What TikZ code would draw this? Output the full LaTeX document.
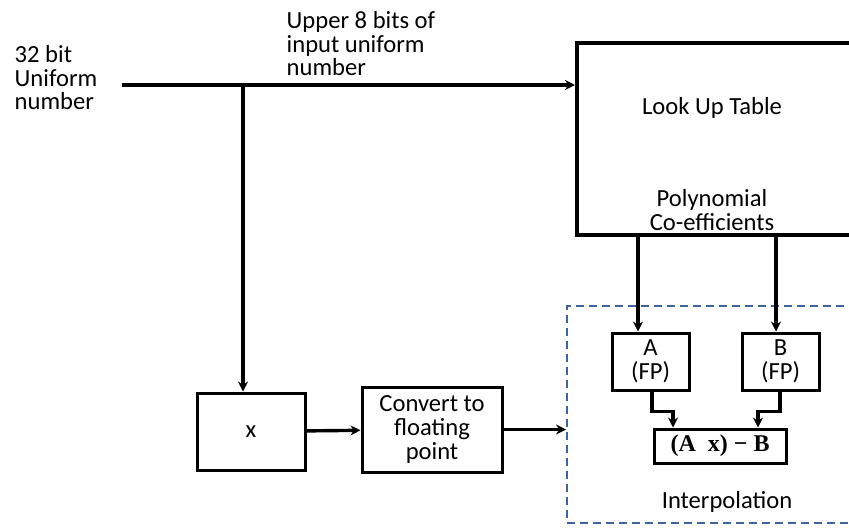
\documentclass[tikz,border=0pt]{standalone}
\usepackage{fontspec}
\setmainfont{Carlito}
\newfontfamily\eqfont{Liberation Serif}
\usetikzlibrary{arrows.meta,calc,positioning}
\definecolor{dashblue}{HTML}{3E64A0}

\begin{document}
\begin{tikzpicture}[
    x=0.5pt,
    y=-0.5pt,
    >={Stealth[length=5pt,width=5pt]},
    line width=1.7pt,
    font=\fontsize{12.3}{11.8}\selectfont,
    text centered
  ]

  \tikzstyle{block} = [rectangle, draw, line width=1.5pt, align=center, inner sep=0]
  \tikzstyle{label} = [align=left, inner sep=0, anchor=north west]

  \useasboundingbox (0,0) rectangle (849,527);

  % input side
  \node [label] (inlabel) at (13,44) {32 bit\\Uniform\\number};
  \node [label] (toplabel) at (285,10) {Upper 8 bits of\\input uniform\\number};
  \coordinate (in) at (122,85);
  \coordinate (split) at (243,85);

  \node [block, line width=2pt, minimum width=293*0.5pt, minimum height=192*0.5pt] (lut) at (723.5,139) {};
  \node (luttext) at (712,108) {Look Up Table};
  \node [align=center] (coeff) at (712,210) {Polynomial\\Co-efficients};

  \node [block, minimum width=108*0.5pt, minimum height=77*0.5pt] (mul) at (251,431.5) {x};
  \node [block, minimum width=140*0.5pt, minimum height=85*0.5pt] (conv) at (432,429.5) {Convert to\\floating\\point};

  % interpolation unit
  \node [draw=dashblue, dash pattern=on 4pt off 2.5pt, line width=1pt, minimum width=303*0.5pt, minimum height=217*0.5pt, inner sep=0] (interp) at (718.5,414.5) {};
  \node (interptext) at (727,502) {Interpolation};
  \node [block, minimum width=77*0.5pt, minimum height=57*0.5pt] (a) at (650.5,361.5) {A\\(FP)};
  \node [block, minimum width=77*0.5pt, minimum height=57*0.5pt] (b) at (780.5,361.5) {B\\(FP)};
  \node [block, minimum width=132*0.5pt, minimum height=34*0.5pt, font=\fontsize{12}{12}\eqfont\bfseries] (axb) at (720,446) {(A\ \ x) − B};

  \coordinate (atop) at ($(a.north)+(-12.5,0)$);
  \coordinate (btop) at ($(b.north)+(-4.5,0)$);
  \coordinate (abot) at ($(a.south)+(1.5,0)$);
  \coordinate (bbot) at ($(b.south)+(-0.5,0)$);
  \coordinate (ain) at ($(axb.north)+(-47,0)$);
  \coordinate (bin) at ($(axb.north)+(38,0)$);

  \draw [->] (in) -- (lut.west |- in);
  \draw [->] (split) -- (mul.north -| split);
  \draw [->] (mul) -- (conv);
  \draw [->] (conv.east) -- (interp.west |- conv.east);

  \draw [->] (atop |- lut.south) -- (atop);
  \draw [->] (btop |- lut.south) -- (btop);
  \draw [->] (abot) -- ++(0,20) -| (ain);
  \draw [->] (bbot) -- ++(0,20) -| (bin);

\end{tikzpicture}
\end{document}
